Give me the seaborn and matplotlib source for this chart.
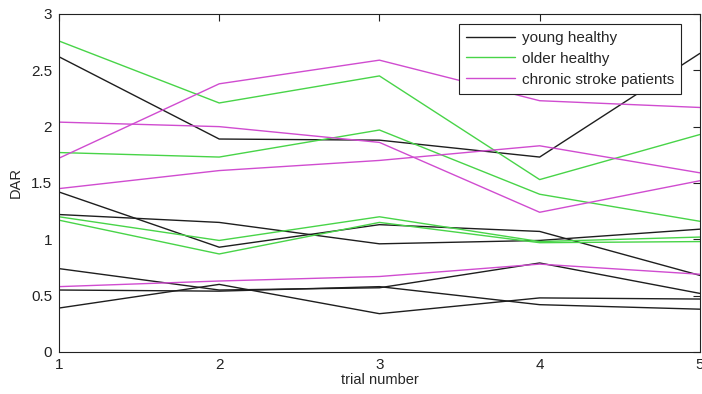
import pandas as pd
import matplotlib
matplotlib.use("Agg")
import matplotlib.pyplot as plt
import seaborn as sns

# trial numbers on the x axis
trials = [1, 2, 3, 4, 5]

# DAR per subject
young_healthy = [
    [2.62, 1.89, 1.88, 1.73, 2.65],
    [1.42, 0.93, 1.13, 1.07, 0.68],
    [1.22, 1.15, 0.96, 0.99, 1.09],
    [0.74, 0.55, 0.57, 0.79, 0.52],
    [0.39, 0.60, 0.34, 0.48, 0.47],
    [0.55, 0.54, 0.58, 0.42, 0.38],
]
older_healthy = [
    [2.76, 2.21, 2.45, 1.53, 1.93],
    [1.77, 1.73, 1.97, 1.40, 1.16],
    [1.20, 0.99, 1.20, 0.98, 1.02],
    [1.17, 0.87, 1.15, 0.97, 0.98],
]
stroke_patients = [
    [1.72, 2.38, 2.59, 2.23, 2.17],
    [2.04, 2.00, 1.86, 1.24, 1.52],
    [1.45, 1.61, 1.70, 1.83, 1.59],
    [0.58, 0.63, 0.67, 0.78, 0.69],
]

group_names = ["young healthy", "older healthy", "chronic stroke patients"]
group_colors = ["#1e1e1e", "#48d448", "#d04cd0"]

ytick_values = [0, 0.5, 1, 1.5, 2, 2.5, 3]
ytick_labels = ["0", "0.5", "1", "1.5", "2", "2.5", "3"]

# long table for seaborn
rows = []
for name, subjects in zip(group_names, [young_healthy, older_healthy, stroke_patients]):
    for i, vals in enumerate(subjects):
        for t, v in zip(trials, vals):
            rows.append({"trial": t, "DAR": v, "group": name, "subject": f"{name}_{i}"})
df = pd.DataFrame(rows)

sns.set_style("white")
plt.rcParams["font.family"] = ["Liberation Sans", "DejaVu Sans"]

fig = plt.figure(figsize=(7.02, 3.94), dpi=100)
ax = fig.add_axes([0.084, 0.1066, 0.913, 0.858])

sns.lineplot(data=df, x="trial", y="DAR", hue="group", units="subject",
             estimator=None, palette=dict(zip(group_names, group_colors)),
             hue_order=group_names, linewidth=1.0, ax=ax)

ax.set_xlim(1, 5)
ax.set_ylim(0, 3)
ax.set_xticks(trials)
ax.set_xticklabels([str(t) for t in trials])
ax.set_yticks(ytick_values)
ax.set_yticklabels(ytick_labels)
ax.tick_params(direction="in", length=5, width=0.8, top=True, right=True,
               labelsize=11, colors="#222222")
ax.tick_params(axis="y", pad=5)
ax.tick_params(axis="x", pad=4)
for s in ax.spines.values():
    s.set_color("#222222")
    s.set_linewidth(0.8)

ax.set_xlabel("trial number", fontsize=10.5, labelpad=1)
ax.set_ylabel("DAR", fontsize=10.5, labelpad=6)

leg = ax.legend(loc="upper right", bbox_to_anchor=(0.970, 0.970),
                borderaxespad=0, fancybox=False, framealpha=1,
                edgecolor="#222222", fontsize=11, handlelength=3.2,
                handletextpad=0.45, labelspacing=0.45, borderpad=0.45)
leg.get_frame().set_linewidth(0.8)

fig.savefig("out.png", dpi=100)
